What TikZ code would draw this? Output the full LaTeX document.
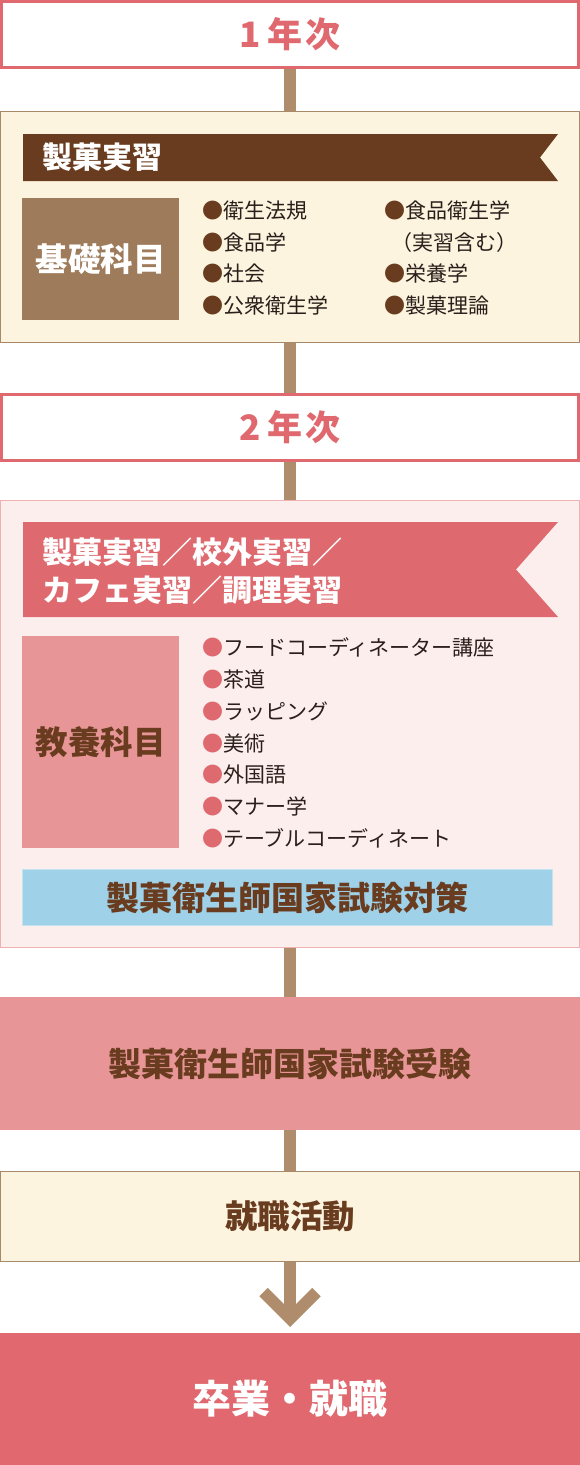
\documentclass[tikz,border=0pt]{standalone}
\usepackage{fontspec}
\setmainfont{Noto Sans CJK JP}
\definecolor{hred}{HTML}{E0696F}
\definecolor{ribred}{HTML}{DE6A6F}
\definecolor{finred}{HTML}{E0686E}
\definecolor{lpink}{HTML}{E89597}
\definecolor{pinkbg}{HTML}{FDEEEE}
\definecolor{pinkline}{HTML}{F0B3B3}
\definecolor{cream}{HTML}{FDF4E0}
\definecolor{creamline}{HTML}{A8896A}
\definecolor{dbrown}{HTML}{6A3C1F}
\definecolor{tan}{HTML}{9E7B5A}
\definecolor{conn}{HTML}{AF8D6C}
\definecolor{lblue}{HTML}{9FD1E8}
\definecolor{lblueline}{HTML}{C3E3F1}
\definecolor{txt}{HTML}{2A1F1A}
\tikzset{
  fs/.code={\pgfmathsetmacro\myh{0.8*#1}\pgfmathsetmacro\myd{0.04*#1}%
    \tikzset{font=\fontsize{#1pt}{#1pt}\selectfont, text height=\myh pt, text depth=\myd pt}},
  yearbox/.style={draw=hred, line width=3pt, fill=white, minimum width=577pt, minimum height=66pt, inner sep=0pt, text=hred, fs=35},
  creambox/.style={draw=creamline, line width=1.2pt, fill=cream, minimum width=578.8pt, inner sep=0pt},
  pinkbox/.style={draw=pinkline, line width=1.2pt, fill=pinkbg, minimum width=578.8pt, inner sep=0pt},
  subjbox/.style={minimum width=157pt, inner sep=0pt, fs=32.5},
  ribtext/.style={anchor=west, inner sep=0pt, text=white, fs=30},
  item/.style={anchor=west, inner sep=0pt, text=txt, fs=21},
  bigbox/.style={minimum width=580pt, inner sep=0pt},
  connector/.style={draw=conn, line width=12pt},
}
\newcommand\bb{{\color{dbrown}●}}
\newcommand\rb{{\color{ribred}●}}
\begin{document}
\begin{tikzpicture}[x=1pt,y=-1pt]
\useasboundingbox (0,0) rectangle (580,1465);

% Year 1
\node[yearbox] (y1) at (290,34.5) {\bfseries 1\hspace{6pt}年\hspace{3pt}次};
\node[creambox, minimum height=230.8pt] (c1) at (290,226.9) {};
\fill[dbrown] (23,134) -- (558,134) -- (540,157.5) -- (558,181) -- (23,181) -- cycle;
\node[ribtext] (r1) at (42,157.5) {\bfseries 製菓実習};
\node[subjbox, fill=tan, text=white, minimum height=122pt] (k1) at (100.5,259) {\bfseries 基礎科目};
\node[item] (a1) at (202,211) {\bb 衛生法規};
\node[item] (a2) at (202,242.5) {\bb 食品学};
\node[item] (a3) at (202,274) {\bb 社会};
\node[item] (a4) at (202,305.5) {\bb 公衆衛生学};
\node[item] (b1) at (384,211) {\bb 食品衛生学};
\node[item] (b2) at (391,242.5) {（実習含む）};
\node[item] (b3) at (384,274) {\bb 栄養学};
\node[item] (b4) at (384,305.5) {\bb 製菓理論};

% Year 2
\node[yearbox] (y2) at (290,427.5) {\bfseries 2\hspace{6pt}年\hspace{3pt}次};
\node[pinkbox, minimum height=446.8pt] (p2) at (290,724) {};
\fill[ribred] (23,522) -- (558,522) -- (516,569.5) -- (558,617) -- (23,617) -- cycle;
\node[ribtext] (r2a) at (42,552) {\bfseries 製菓実習／校外実習／};
\node[ribtext] (r2b) at (42,590) {\bfseries カフェ実習／調理実習};
\node[subjbox, fill=lpink, text=dbrown, minimum height=212pt] (k2) at (100.5,742) {\bfseries 教養科目};
\node[item] (d1) at (202,648) {\rb フードコーディネーター講座};
\node[item] (d2) at (202,680) {\rb 茶道};
\node[item] (d3) at (202,712) {\rb ラッピング};
\node[item] (d4) at (202,743.5) {\rb 美術};
\node[item] (d5) at (202,775) {\rb 外国語};
\node[item] (d6) at (202,807) {\rb マナー学};
\node[item] (d7) at (202,839) {\rb テーブルコーディネート};
\node[draw=lblueline, line width=1pt, fill=lblue, minimum width=530pt, minimum height=56pt, inner sep=0pt, text=dbrown, fs=33] (tai) at (287.5,897.5) {\bfseries 製菓衛生師国家試験対策};

% Exam
\node[bigbox, fill=lpink, minimum height=133pt, text=dbrown, fs=33] (ex) at (290,1063.5) {\bfseries 製菓衛生師国家試験受験};
% Job hunting
\node[creambox, minimum height=89.8pt, text=dbrown, fs=32.5] (job) at (290,1216.5) {\bfseries 就職活動};
% Final
\node[bigbox, fill=finred, minimum height=132pt, text=white, fs=39] (fin) at (290,1399) {\bfseries 卒業・就職};

% connectors
\draw[connector] (y1.south) -- (c1.north);
\draw[connector] (c1.south) -- (y2.north);
\draw[connector] (y2.south) -- (p2.north);
\draw[connector] (p2.south) -- (ex.north);
\draw[connector] (ex.south) -- (job.north);
\coordinate (tip) at (290,1318.5);
\coordinate (cl) at (263.5,1292);
\coordinate (cr) at (316.5,1292);
\draw[connector] (job.south) -- (tip);
\draw[connector, miter limit=10] (cl) -- (tip) -- (cr);
\end{tikzpicture}
\end{document}
